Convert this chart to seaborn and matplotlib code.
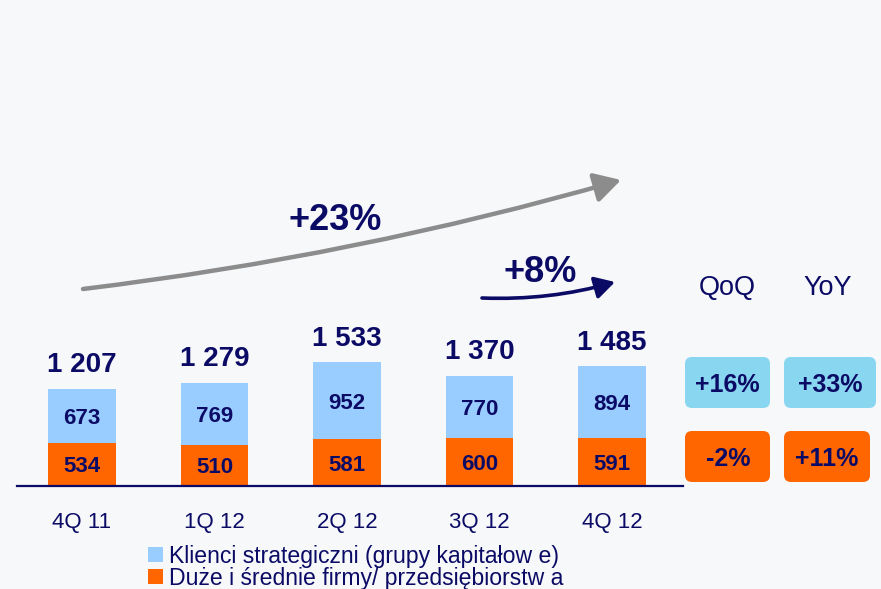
import matplotlib
matplotlib.use("Agg")
import matplotlib.pyplot as plt
import seaborn as sns
import pandas as pd
from matplotlib.patches import FancyArrowPatch, FancyBboxPatch, Rectangle

# --- data ---
quarters = ["4Q 11", "1Q 12", "2Q 12", "3Q 12", "4Q 12"]
strategic = [673, 769, 952, 770, 894]   # Klienci strategiczni
mid_firms = [534, 510, 581, 600, 591]   # Duze i srednie firmy
series_names = ["Klienci strategiczni (grupy kapitałow e)",
                "Duże i średnie firmy/ przedsiębiorstw a"]
total_growth = "+23%"
last_growth = "+8%"
qoq_labels = ["+16%", "-2%"]
yoy_labels = ["+33%", "+11%"]

# --- style ---
BG = "#F7F8FA"
NAVY = "#0B0B66"
LIGHT = "#99CCFF"
ORANGE = "#FF6600"
BOX_BLUE = "#88D6EF"
GRAY = "#8C8C8C"
W, H = 881, 589
PX_PER_UNIT = 0.0806

sns.set_theme(style="white")
plt.rcParams["font.family"] = ["Liberation Sans", "DejaVu Sans"]

df = pd.DataFrame({"quarter": quarters, "strategic": strategic, "mid": mid_firms})
df["total"] = df["strategic"] + df["mid"]

fig = plt.figure(figsize=(W / 100, H / 100), dpi=100, facecolor=BG)
ax = fig.add_axes([17 / W, (H - 486) / H, (683 - 17) / W, (486 - 150) / H])
ax.set_facecolor("none")

# stacked bars: total in light blue, bottom segment in orange on top of it
sns.barplot(data=df, x="quarter", y="total", color=LIGHT, saturation=1,
            width=0.51, ax=ax, edgecolor="none")
sns.barplot(data=df, x="quarter", y="mid", color=ORANGE, saturation=1,
            width=0.51, ax=ax, edgecolor="none")

ax.set_xlim(-0.4906, 4.536)
ax.set_ylim(0, (486 - 150) / PX_PER_UNIT)
sns.despine(ax=ax, left=True)
ax.spines["bottom"].set_color(NAVY)
ax.spines["bottom"].set_linewidth(1.6)
ax.set_yticks([])
ax.set_xlabel("")
ax.set_ylabel("")
ax.tick_params(axis="x", length=0, pad=19, labelsize=16, labelcolor=NAVY)

for i, row in df.iterrows():
    ax.text(i, row["mid"] / 2, str(row["mid"]), ha="center", va="center_baseline",
            fontsize=16, weight="bold", color=NAVY)
    ax.text(i, row["mid"] + row["strategic"] / 2, str(row["strategic"]),
            ha="center", va="center_baseline", fontsize=16, weight="bold", color=NAVY)
    ax.annotate(f"{row['total']:,}".replace(",", " "), (i, row["total"]),
                xytext=(0, 12), textcoords="offset points", ha="center",
                va="baseline", fontsize=20, weight="bold", color=NAVY)

# overlay in pixel coordinates for arrows, boxes and legend
ov = fig.add_axes([0, 0, 1, 1], facecolor="none")
ov.set_xlim(0, W)
ov.set_ylim(H, 0)
ov.axis("off")

ov.add_patch(FancyArrowPatch((83, 289), (621, 180), connectionstyle="arc3,rad=0.04",
                             arrowstyle="-|>,head_length=0.8,head_width=0.45",
                             mutation_scale=20, lw=3.2, color=GRAY,
                             shrinkA=0, shrinkB=0))
ov.add_patch(FancyArrowPatch((482, 298), (615, 282), connectionstyle="arc3,rad=0.08",
                             arrowstyle="-|>,head_length=0.8,head_width=0.45",
                             mutation_scale=15, lw=2.6, color=NAVY,
                             shrinkA=0, shrinkB=0))
ov.text(335, 216, total_growth, ha="center", va="center_baseline", fontsize=26,
        weight="bold", color=NAVY)
ov.text(540, 268, last_growth, ha="center", va="center_baseline", fontsize=26,
        weight="bold", color=NAVY)

ov.text(727, 285, "QoQ", ha="center", va="center_baseline", fontsize=19.5, color=NAVY)
ov.text(828, 285, "YoY", ha="center", va="center_baseline", fontsize=19.5, color=NAVY)

boxes = [
    (685, 357, 85, 51, BOX_BLUE, qoq_labels[0], 727),
    (784, 357, 92, 51, BOX_BLUE, yoy_labels[0], 830),
    (685, 431, 85, 51, ORANGE, qoq_labels[1], 728),
    (784, 431, 86, 51, ORANGE, yoy_labels[1], 827),
]
for x0, y0, w, h, col, lbl, tx in boxes:
    ov.add_patch(FancyBboxPatch((x0, y0), w, h, boxstyle="round,pad=0,rounding_size=7",
                                facecolor=col, edgecolor="none"))
    ov.text(tx, y0 + h / 2, lbl, ha="center", va="center_baseline", fontsize=18,
            weight="bold", color=NAVY)

# legend
for (y0, col), name in zip([(547, LIGHT), (569, ORANGE)], series_names):
    ov.add_patch(Rectangle((148, y0), 15, 15, facecolor=col, edgecolor="none"))
    ov.text(169, y0 + 7.5, name, ha="left", va="center_baseline", fontsize=16.6, color=NAVY)

fig.savefig("out.png", dpi=100, facecolor=BG)
